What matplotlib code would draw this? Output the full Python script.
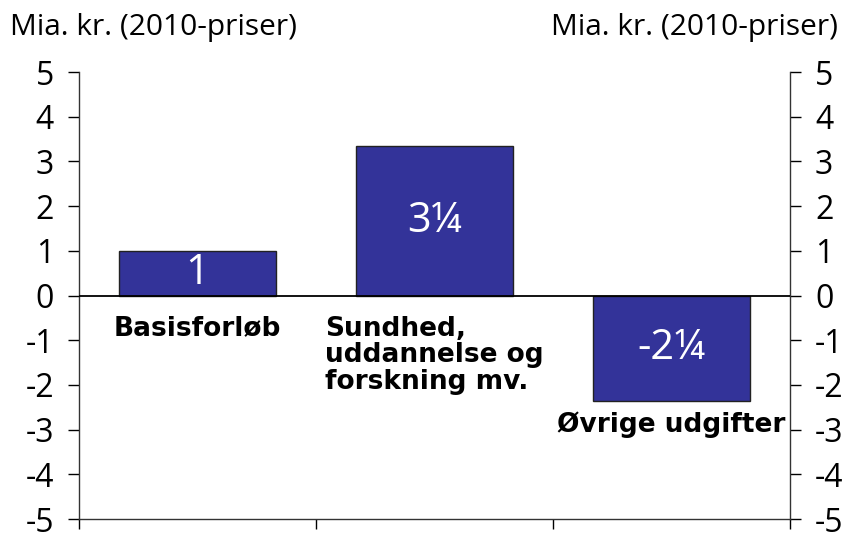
import matplotlib.pyplot as plt

# Data
kategorier = ['Basisforløb', 'Sundhed,\nuddannelse og\nforskning mv.', 'Øvrige udgifter']
vaerdier = [1.0, 3.35, -2.35]
bar_labels = ['1', '3¼', '-2¼']
yticks = [5, 4, 3, 2, 1, 0, -1, -2, -3, -4, -5]

plt.rcParams['font.family'] = ['Open Sans', 'DejaVu Sans']

fig = plt.figure(figsize=(8.49, 5.37), dpi=100)
ax = fig.add_axes([79 / 849, 18 / 537, 711 / 849, 447 / 537])

x = list(range(len(kategorier)))
bars = ax.bar(x, vaerdier, width=0.665, color='#333399', edgecolor='#222222', linewidth=1.0, zorder=2)
ax.axhline(0, color='black', linewidth=1.3, zorder=3)

ax.set_xlim(-0.5, 2.5)
ax.set_ylim(-5, 5)
ax.set_yticks(yticks)
ax.set_yticklabels([str(t) for t in yticks], fontsize=23)
ax.tick_params(axis='y', direction='out', length=8, width=1, left=True, right=True,
               labelleft=True, labelright=True, pad=10)
ax.set_xticks([-0.5, 0.5, 1.5, 2.5])
ax.set_xticklabels([])
ax.tick_params(axis='x', direction='out', length=7.5, width=1)

for s in ['left', 'right', 'bottom']:
    ax.spines[s].set_color('#333333')
    ax.spines[s].set_linewidth(1)
ax.spines['top'].set_visible(False)

# Verdier i søjlerne
for xi, v, lab in zip(x, vaerdier, bar_labels):
    ax.text(xi, v / 2, lab, ha='center', va='center', color='white', fontsize=30)

# Kategorinavne
label_y = [-0.45, -0.45, -2.6]
for xi, navn, ly in zip(x, kategorier, label_y):
    ax.text(xi, ly, navn, ha='center', va='top', fontsize=19, fontweight='bold',
            family='DejaVu Sans', multialignment='left', linespacing=1.03)

fig.text(10 / 849, 1 - 28 / 537, 'Mia. kr. (2010-priser)', ha='left', va='center', fontsize=21.5)
fig.text(838 / 849, 1 - 28 / 537, 'Mia. kr. (2010-priser)', ha='right', va='center', fontsize=21.5)

plt.savefig('out.png', dpi=100)
